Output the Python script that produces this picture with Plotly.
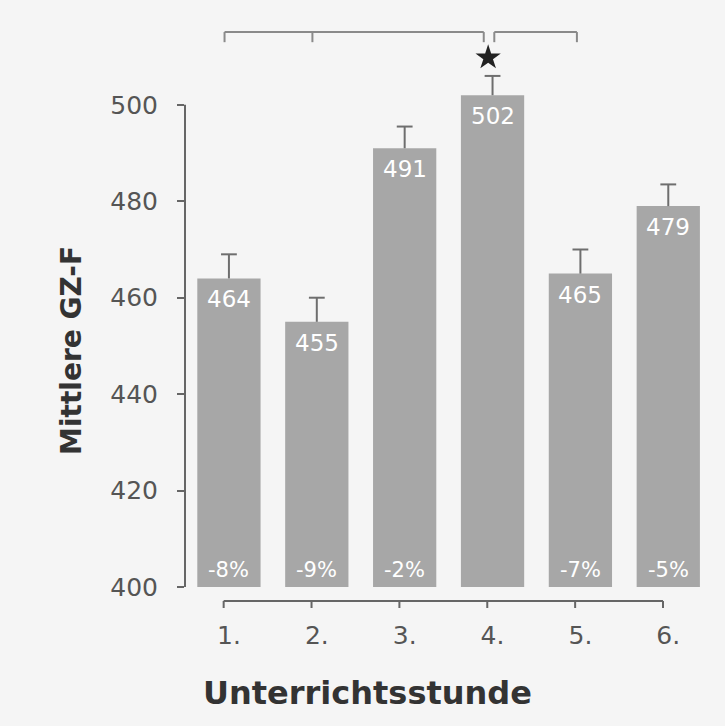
import plotly.graph_objects as go

# Mean GZ-F per school lesson
lessons = ["1.", "2.", "3.", "4.", "5.", "6."]
means = [464, 455, 491, 502, 465, 479]
errors = [5, 5, 4.5, 4, 5, 4.5]
bar_labels = ["464", "455", "491", "502", "465", "479"]
pct_labels = ["-8%", "-9%", "-2%", "", "-7%", "-5%"]
y_ticks = [400, 420, 440, 460, 480, 500]

x = list(range(len(lessons)))

BG = "#f5f5f5"
BAR = "#a7a7a7"
AX = "#666666"
TXT = "#555555"

Y_MIN, Y_MAX = 400, 517.6

fig = go.Figure()

fig.add_trace(go.Bar(
    x=x, y=means,
    marker=dict(color=BAR, line=dict(width=0)),
    hoverinfo="skip",
))

# one-sided (upward) error whiskers with a cap at the top
cap = 0.09
ex, ey = [], []
for xi, m, e in zip(x, means, errors):
    ex += [xi, xi, None, xi - cap, xi + cap, None]
    ey += [m, m + e, None, m + e, m + e, None]
fig.add_trace(go.Scatter(
    x=ex, y=ey, mode="lines",
    line=dict(color="#6e6e6e", width=2),
    hoverinfo="skip",
))

# significance star above lesson 4
fig.add_trace(go.Scatter(
    x=[2.95], y=[509.8], mode="markers",
    marker=dict(symbol="star", size=19, color="#222222"),
    hoverinfo="skip",
))

shapes = []
# y axis line only from 400 to 500
shapes.append(dict(type="line", xref="paper", yref="y", x0=0, x1=0,
                   y0=400, y1=500, line=dict(color=AX, width=2)))
# detached x axis line with ticks
xl_y = -14 / 567
tick_off = -0.06
shapes.append(dict(type="line", xref="x", yref="paper",
                   x0=x[0] + tick_off, x1=x[-1] + tick_off, y0=xl_y, y1=xl_y,
                   line=dict(color=AX, width=2)))
for xi in x:
    shapes.append(dict(type="line", xref="x", yref="paper",
                       x0=xi + tick_off, x1=xi + tick_off,
                       y0=xl_y, y1=xl_y - 7 / 567,
                       line=dict(color=AX, width=2)))

# comparison brackets at top
br_y, br_drop = 515.1, 513.0
BR = "#8a8a8a"
left = (-0.05, 2.9)
right = (3.02, 3.96)
for a, b in (left, right):
    shapes.append(dict(type="line", x0=a, x1=b, y0=br_y, y1=br_y,
                       line=dict(color=BR, width=2)))
    for e in (a, b):
        shapes.append(dict(type="line", x0=e, x1=e, y0=br_y, y1=br_drop,
                           line=dict(color=BR, width=2)))
shapes.append(dict(type="line", x0=0.95, x1=0.95, y0=br_y, y1=br_drop,
                   line=dict(color=BR, width=2)))

annotations = []
for xi, m, lab in zip(x, means, bar_labels):
    annotations.append(dict(x=xi, y=m, text=lab, showarrow=False,
                            yanchor="top", yshift=-6,
                            font=dict(family="DejaVu Sans", size=23, color="white")))
for xi, lab in zip(x, pct_labels):
    if lab:
        annotations.append(dict(x=xi, y=400, text=lab, showarrow=False,
                                yanchor="bottom", yshift=3,
                                font=dict(family="DejaVu Sans", size=21, color="white")))

annotations.append(dict(xref="paper", yref="paper", x=-0.211, y=0.418,
                        xanchor="center", yanchor="middle",
                        text="<b>Mittlere GZ-F</b>", textangle=-90, showarrow=False,
                        font=dict(family="DejaVu Sans", size=28, color="#333333")))
annotations.append(dict(xref="paper", yref="paper", x=0.341, y=-0.187,
                        xanchor="center", yanchor="middle",
                        text="<b>Unterrichtsstunde</b>", showarrow=False,
                        font=dict(family="DejaVu Sans", size=32, color="#333333")))

fig.update_layout(
    width=725, height=726,
    margin=dict(l=185, r=4, t=20, b=139),
    paper_bgcolor=BG, plot_bgcolor=BG,
    showlegend=False,
    bargap=0.28,
    shapes=shapes,
    annotations=annotations,
    xaxis=dict(range=[-0.5, 5.6], tickvals=x, ticktext=lessons,
               showgrid=False, zeroline=False, showline=False, ticks="",
               ticklabelstandoff=31,
               tickfont=dict(family="DejaVu Sans", size=25, color=TXT)),
    yaxis=dict(range=[Y_MIN, Y_MAX], tickvals=y_ticks,
               showgrid=False, zeroline=False, showline=False,
               ticks="outside", ticklen=7, tickwidth=2, tickcolor=AX,
               ticklabelstandoff=14,
               tickfont=dict(family="DejaVu Sans", size=25, color=TXT)),
)

fig.write_html("out.html")
